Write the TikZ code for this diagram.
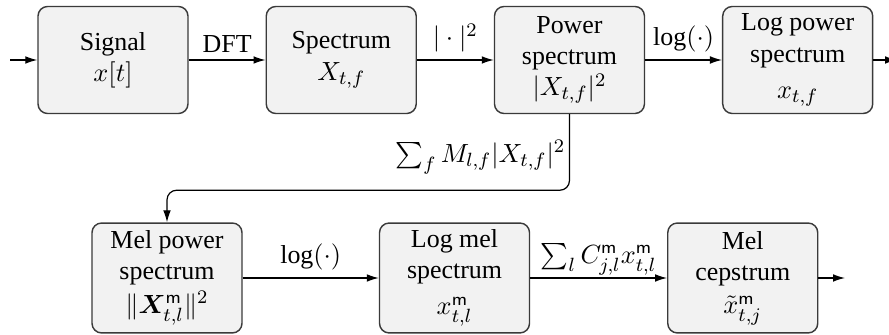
\documentclass[tikz,border=0pt]{standalone}
\usepackage{amsmath}
\usepackage{bm}
\usepackage{fontspec}
\setmainfont{Liberation Serif}
\usetikzlibrary{arrows.meta,positioning}
\definecolor{boxfill}{HTML}{F2F2F2}
\definecolor{boxline}{HTML}{3A3A3A}

\begin{document}
\begin{tikzpicture}[
    x=0.41667pt, y=0.41667pt,
    font=\rmfamily\fontsize{10.8}{13}\selectfont,
    stage/.style={rectangle, rounded corners=4pt, draw=boxline,
                  line width=0.6pt, fill=boxfill, minimum width=62.5pt,
                  minimum height=44.6pt, align=center, inner sep=1.5pt},
    arrow/.style={-{Latex[length=5pt,width=3.2pt]}, line width=0.5pt},
    steplabel/.style={above, inner sep=3pt}
]
\useasboundingbox (0,0) rectangle (889,-335);

% Top row: signal to log power spectrum
\node[stage] (signal) at (113,-60) {Signal\\$x[t]$};
\node[stage, right=32pt of signal] (spec) {Spectrum\\$X_{t,f}$};
\node[stage, right=32pt of spec] (pow) {Power\\spectrum\\$|X_{t,f}|^2$};
\node[stage, right=32pt of pow] (logpow) {Log power\\spectrum\\[2pt]$x_{t,f}$};

% Bottom row: mel path
\node[stage, minimum height=45.8pt] (melpow) at (167,-278)
    {Mel power\\spectrum\\[1pt]$\|\bm{X}^{\mathsf{m}}_{t,l}\|^2$};
\node[stage, minimum height=45.8pt, right=56.7pt of melpow] (logmel)
    {Log mel\\spectrum\\[2pt]$x^{\mathsf{m}}_{t,l}$};
\node[stage, minimum height=45.8pt, right=57pt of logmel] (melcep)
    {Mel\\cepstrum\\[1pt]$\tilde{x}^{\mathsf{m}}_{t,j}$};

% Free ends of the in/out arrows
\coordinate (in) at (10,-60);
\coordinate (out) at (897,-60);
\coordinate (melout) at (845,-278);

% Arrows: top row
\draw[arrow] (in) -- (signal.west);
\draw[arrow] (signal) -- node[steplabel] {DFT} (spec);
\draw[arrow] (spec) -- node[steplabel] {$|\cdot|^2$} (pow);
\draw[arrow] (pow) -- node[steplabel] {$\log(\cdot)$} (logpow);
\draw[arrow] (logpow.east) -- (out);

% Arrow: power spectrum down to mel filterbank
\draw[arrow, rounded corners=4pt] (pow.south) -- ++(0,-76)
    node[midway, left, inner sep=1.5pt, yshift=-2pt] {$\sum_f M_{l,f}|X_{t,f}|^2$}
    -| (melpow.north);

% Arrows: bottom row
\draw[arrow] (melpow) -- node[steplabel] {$\log(\cdot)$} (logmel);
\draw[arrow] (logmel) -- node[steplabel, inner sep=1pt] {$\sum_l C^{\mathsf{m}}_{j,l} x^{\mathsf{m}}_{t,l}$} (melcep);
\draw[arrow] (melcep.east) -- (melout);

\end{tikzpicture}
\end{document}
